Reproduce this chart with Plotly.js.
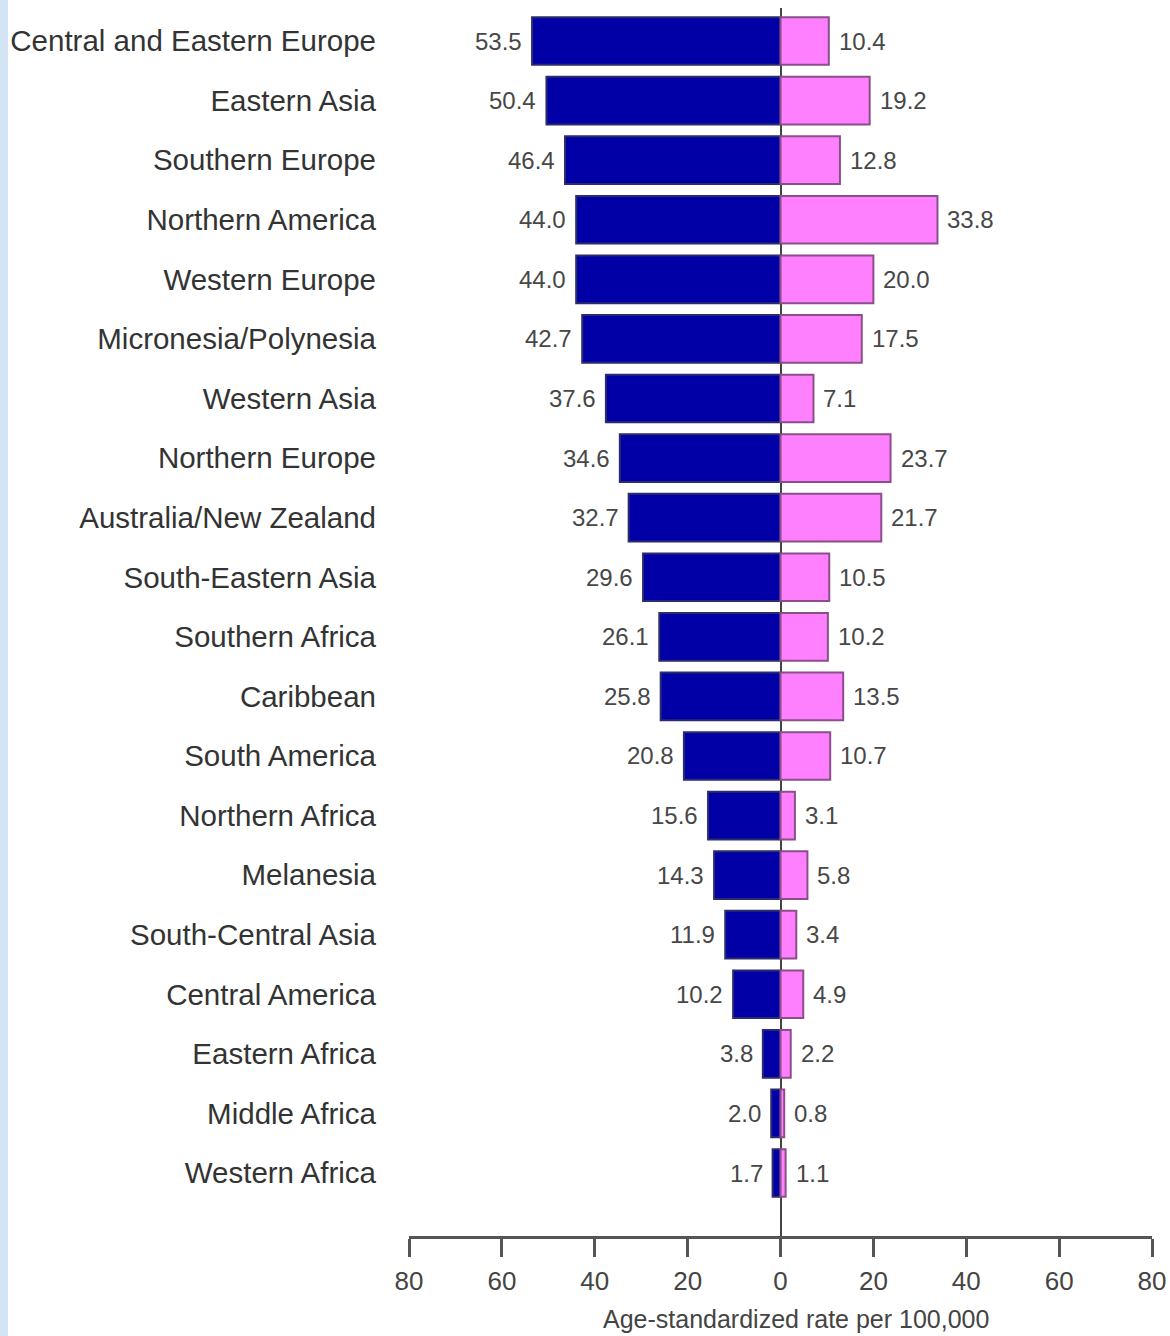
<!DOCTYPE html>
<html>
<head>
<meta charset="utf-8">
<script src="https://cdn.plot.ly/plotly-3.0.1.min.js"></script>
<style>
html,body{margin:0;padding:0;background:#ffffff;}
#chart{width:1170px;height:1336px;}
</style>
</head>
<body>
<div id="chart"></div>
<script>
const regions = [
  "Central and Eastern Europe","Eastern Asia","Southern Europe","Northern America",
  "Western Europe","Micronesia/Polynesia","Western Asia","Northern Europe",
  "Australia/New Zealand","South-Eastern Asia","Southern Africa","Caribbean",
  "South America","Northern Africa","Melanesia","South-Central Asia",
  "Central America","Eastern Africa","Middle Africa","Western Africa"
];
const maleRates = [53.5,50.4,46.4,44.0,44.0,42.7,37.6,34.6,32.7,29.6,26.1,25.8,20.8,15.6,14.3,11.9,10.2,3.8,2.0,1.7];
const femaleRates = [10.4,19.2,12.8,33.8,20.0,17.5,7.1,23.7,21.7,10.5,10.2,13.5,10.7,3.1,5.8,3.4,4.9,2.2,0.8,1.1];
const tickValues = [-80,-60,-40,-20,0,20,40,60,80];
const tickLabels = ["80","60","40","20","0","20","40","60","80"];
const xTitle = "Age-standardized rate per 100,000";

const FONT = "Liberation Sans, Arial, sans-serif";

const males = {
  type: "bar", orientation: "h",
  y: regions,
  x: maleRates.map(v => -v),
  width: 0.8,
  marker: {color: "#0000a6", line: {color: "#2b2b6e", width: 2}},
  hoverinfo: "skip",
  showlegend: false
};
const females = {
  type: "bar", orientation: "h",
  y: regions,
  x: femaleRates,
  width: 0.8,
  marker: {color: "#ff80ff", line: {color: "#8a4f8a", width: 2}},
  hoverinfo: "skip",
  showlegend: false
};

const valueFont = {family: FONT, size: 24, color: "#474747"};
const annotations = [];
regions.forEach((r, i) => {
  annotations.push({x: -maleRates[i], y: r, xref: "x", yref: "y", text: maleRates[i].toFixed(1),
    showarrow: false, xanchor: "right", xshift: -8, font: valueFont});
  annotations.push({x: femaleRates[i], y: r, xref: "x", yref: "y", text: femaleRates[i].toFixed(1),
    showarrow: false, xanchor: "left", xshift: 8, font: valueFont});
});
annotations.push({x: 0.5, y: 0, xref: "paper", yref: "paper", text: xTitle, showarrow: false,
  xanchor: "center", yanchor: "middle", xshift: 15, yshift: -83,
  font: {family: FONT, size: 25, color: "#444444"}});

const layout = {
  width: 1170, height: 1336,
  margin: {l: 409, r: 18, t: 8, b: 100},
  paper_bgcolor: "#ffffff",
  plot_bgcolor: "#ffffff",
  barmode: "overlay",
  font: {family: FONT, color: "#333333"},
  xaxis: {
    range: [-80, 80],
    tickmode: "array",
    tickvals: tickValues,
    ticktext: tickLabels,
    ticks: "outside",
    ticklen: 18,
    tickwidth: 3,
    tickcolor: "#555555",
    ticklabelstandoff: 2,
    showline: true,
    linecolor: "#555555",
    linewidth: 3,
    showgrid: false,
    zeroline: true,
    zerolinecolor: "#444444",
    zerolinewidth: 2,
    tickfont: {family: FONT, size: 26, color: "#444444"},
    fixedrange: true
  },
  yaxis: {
    type: "category",
    range: [20.057, -0.554],
    ticks: "",
    ticklabelstandoff: 32,
    showline: false,
    showgrid: false,
    zeroline: false,
    tickfont: {family: FONT, size: 29.5, color: "#333333"},
    fixedrange: true
  },
  annotations: annotations,
  shapes: [
    {type: "rect", xref: "paper", yref: "paper", x0: -409/743, x1: -401/743, y0: -0.2, y1: 1.1,
     fillcolor: "#d3e5f5", line: {width: 0}, layer: "below"}
  ]
};

Plotly.newPlot("chart", [males, females], layout, {displayModeBar: false, staticPlot: true});
</script>
</body>
</html>
